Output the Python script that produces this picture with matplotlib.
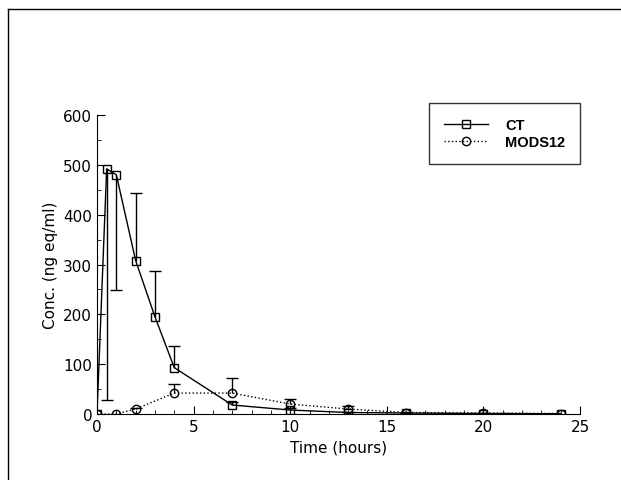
import numpy as np
import matplotlib
matplotlib.use("Agg")
import matplotlib.pyplot as plt
from matplotlib.lines import Line2D
from matplotlib.ticker import MultipleLocator

# Data
ct_time = [0, 0.5, 1, 2, 3, 4, 7, 10, 13, 16, 20, 24]
ct_conc = [0, 492, 480, 308, 195, 93, 18, 8, 3, 2, 1, 0.5]
ct_err_lo = [0, 464, 232, 0, 0, 0, 0, 0, 0, 0, 0, 0]
ct_err_hi = [0, 0, 0, 135, 92, 43, 6, 4, 2, 1, 0, 0]

mods_time = [0, 1, 2, 4, 7, 10, 13, 16, 20, 24]
mods_conc = [0, 0, 10, 42, 42, 20, 10, 3, 2, 1]
mods_err_hi = [0, 0, 3, 18, 30, 10, 7, 2, 1, 0]

plt.rcParams['font.family'] = ['DejaVu Sans']

fig = plt.figure(figsize=(6.21, 4.81), dpi=100)
ax = fig.add_axes([0.1562, 0.1372, 0.7778, 0.6216])


def one_sided_bars(x, y, lo, hi):
    x = np.asarray(x, float)
    y = np.asarray(y, float)
    lo = np.asarray(lo, float)
    hi = np.asarray(hi, float)
    ax.vlines(x, y - lo, y + hi, color='black', lw=1)
    m = lo > 0
    ax.plot(x[m], (y - lo)[m], ls='none', marker='_', ms=8, mew=1, color='black')
    m = hi > 0
    ax.plot(x[m], (y + hi)[m], ls='none', marker='_', ms=8, mew=1, color='black')


one_sided_bars(ct_time, ct_conc, ct_err_lo, ct_err_hi)
one_sided_bars(mods_time, mods_conc, np.zeros(len(mods_conc)), mods_err_hi)

ax.plot(ct_time, ct_conc, color='black', lw=1, marker='s', mfc='none',
        mec='black', ms=5.5, label='CT')
ax.plot(mods_time, mods_conc, color='black', lw=1, ls=':', marker='o',
        mfc='none', mec='black', ms=6, label='MODS12')

ax.set_xlim(0, 25)
ax.set_ylim(0, 600)
ax.xaxis.set_major_locator(MultipleLocator(5))
ax.xaxis.set_minor_locator(MultipleLocator(1))
ax.yaxis.set_major_locator(MultipleLocator(100))
ax.yaxis.set_minor_locator(MultipleLocator(50))
ax.tick_params(which='both', direction='in', labelsize=11)
ax.tick_params(which='major', length=6)
ax.tick_params(which='minor', length=3)
ax.spines['top'].set_visible(False)
ax.spines['right'].set_visible(False)

ax.set_xlabel('Time (hours)', fontsize=11)
ax.set_ylabel('Conc. (ng eq/ml)', fontsize=11)

handles = [Line2D([], [], color='black', lw=1, marker='s', mfc='none', ms=5.5),
           Line2D([], [], color='black', lw=1, ls=':', marker='o', mfc='none', ms=6)]
leg = ax.legend(handles, ['CT', 'MODS12'], loc='upper right',
                bbox_to_anchor=(1.0, 1.04), fancybox=False, edgecolor='black',
                prop={'weight': 'bold', 'size': 10.5, 'family': 'Liberation Sans'},
                handlelength=3.0, handletextpad=1.2, labelspacing=0.25,
                borderpad=1.0, borderaxespad=0)
leg.get_frame().set_linewidth(1)

# page frame lines
fig.add_artist(Line2D([8 / 621, 1], [1 - 10 / 481, 1 - 10 / 481], color='black', lw=1,
                      transform=fig.transFigure))
fig.add_artist(Line2D([8 / 621, 8 / 621], [0, 1 - 10 / 481], color='black', lw=1,
                      transform=fig.transFigure))

fig.savefig('out.png', dpi=100)
